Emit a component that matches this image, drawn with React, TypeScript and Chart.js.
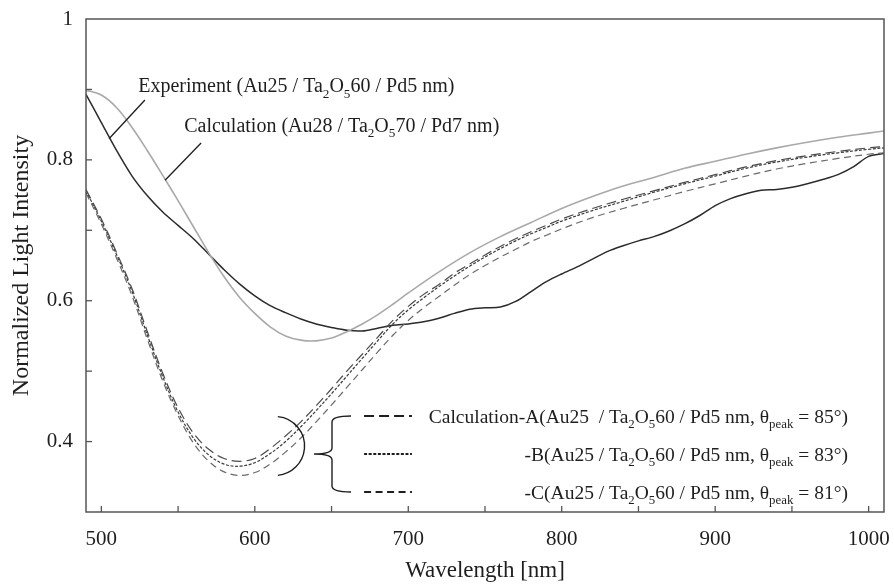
import { useEffect, useRef } from "react";
import { Chart, registerables } from "chart.js";

Chart.register(...registerables);

// ---- data -------------------------------------------------------------
const wavelengthExp = [
  490, 500, 510, 520, 530, 540, 550, 560, 570, 580, 590, 600, 610, 620, 630, 640, 650, 660, 670, 680,
  690, 700, 710, 720, 730, 740, 750, 760, 770, 780, 790, 800, 810, 820, 830, 840, 850, 860, 870, 880,
  890, 900, 910, 920, 930, 940, 950, 960, 970, 980, 990, 1000, 1010,
];
const experiment = [
  0.893, 0.853, 0.813, 0.777, 0.749, 0.726, 0.707, 0.688, 0.666, 0.644, 0.624, 0.607, 0.593, 0.583,
  0.574, 0.567, 0.562, 0.558, 0.557, 0.561, 0.565, 0.567, 0.57, 0.575, 0.582, 0.588, 0.59, 0.591,
  0.599, 0.613, 0.627, 0.638, 0.648, 0.659, 0.67, 0.678, 0.685, 0.691, 0.699, 0.709, 0.721, 0.735,
  0.745, 0.752, 0.757, 0.758, 0.761, 0.766, 0.772, 0.779, 0.79, 0.805, 0.809,
];

const wavelengthCalc = [
  490, 500, 510, 520, 530, 540, 550, 560, 570, 580, 590, 600, 610, 620, 630, 640, 650, 660, 670, 680,
  690, 700, 720, 740, 760, 780, 800, 820, 840, 860, 880, 900, 920, 940, 960, 980, 1000, 1010,
];
const calcAu28 = [
  0.899, 0.892, 0.874, 0.846, 0.813, 0.778, 0.742, 0.705, 0.668, 0.634, 0.605, 0.582, 0.563, 0.55,
  0.544, 0.543, 0.547, 0.556, 0.567, 0.58, 0.595, 0.611, 0.641, 0.668, 0.691, 0.711, 0.731, 0.748,
  0.763, 0.775, 0.788, 0.798, 0.808, 0.817, 0.825, 0.832, 0.838, 0.841,
];

const wavelengthABC = [
  490, 500, 510, 520, 530, 540, 550, 560, 570, 580, 590, 600, 610, 620, 630, 640, 650, 660, 670, 680,
  690, 700, 710, 720, 730, 740, 750, 760, 770, 780, 790, 800, 820, 840, 860, 880, 900, 920, 940, 960,
  980, 1000, 1010,
];
const calcA = [
  0.758, 0.716, 0.668, 0.617, 0.556, 0.497, 0.448, 0.412, 0.389, 0.376, 0.372, 0.376, 0.39, 0.408,
  0.428, 0.451, 0.475, 0.5, 0.524, 0.548, 0.572, 0.592, 0.609, 0.623, 0.639, 0.652, 0.665, 0.677,
  0.688, 0.698, 0.707, 0.716, 0.731, 0.744, 0.756, 0.768, 0.779, 0.79, 0.799, 0.806, 0.812, 0.817,
  0.819,
];
const calcB = [
  0.756, 0.713, 0.665, 0.613, 0.551, 0.492, 0.442, 0.405, 0.381, 0.368, 0.365, 0.37, 0.383, 0.4,
  0.421, 0.444, 0.468, 0.493, 0.518, 0.543, 0.567, 0.587, 0.604, 0.62, 0.635, 0.649, 0.662, 0.674,
  0.685, 0.695, 0.704, 0.713, 0.728, 0.741, 0.754, 0.766, 0.777, 0.788, 0.797, 0.804, 0.81, 0.815,
  0.817,
];
const calcC = [
  0.753, 0.709, 0.66, 0.607, 0.545, 0.486, 0.437, 0.398, 0.372, 0.357, 0.352, 0.356, 0.368, 0.385,
  0.405, 0.428, 0.452, 0.477, 0.502, 0.527, 0.551, 0.572, 0.59, 0.606, 0.622, 0.637, 0.65, 0.662,
  0.673, 0.684, 0.693, 0.702, 0.718, 0.731, 0.743, 0.755, 0.766, 0.777, 0.787, 0.795, 0.802, 0.808,
  0.81,
];

const xLabelTicks = [500, 600, 700, 800, 900, 1000];
const yLabelTicks = [0.4, 0.6, 0.8, 1];
const xTickMarks = [500, 550, 600, 650, 700, 750, 800, 850, 900, 950, 1000];
const yTickMarks = [0.4, 0.5, 0.6, 0.7, 0.8, 0.9];

const peakAngles = ["85", "83", "81"];
const legendPrefixes = ["Calculation-A(Au25  / Ta", "-B(Au25 / Ta", "-C(Au25 / Ta"];

// ---- styles -----------------------------------------------------------
const SERIF = '"Liberation Serif", "Times New Roman", Times, serif';
const INK = "#1e1e1e";
const FRAME = "#555555";
const DASH_A = [10, 5];
const DASH_B = [3, 1.6];
const DASH_C = [7, 4.5];

type Run = { t: string; sub?: boolean };

function setFont(ctx: CanvasRenderingContext2D, size: number) {
  ctx.font = `${size}px ${SERIF}`;
}

function runsWidth(ctx: CanvasRenderingContext2D, runs: Run[], size: number) {
  let w = 0;
  for (const r of runs) {
    setFont(ctx, r.sub ? size * 0.66 : size);
    w += ctx.measureText(r.t).width;
  }
  return w;
}

function drawRuns(
  ctx: CanvasRenderingContext2D,
  runs: Run[],
  x: number,
  baseline: number,
  size: number,
  align: "left" | "right"
) {
  let cx = align === "right" ? x - runsWidth(ctx, runs, size) : x;
  ctx.textAlign = "left";
  ctx.textBaseline = "alphabetic";
  for (const r of runs) {
    const s = r.sub ? size * 0.66 : size;
    setFont(ctx, s);
    ctx.fillText(r.t, cx, baseline + (r.sub ? size * 0.27 : 0));
    cx += ctx.measureText(r.t).width;
  }
}

function stackRuns(prefix: string, suffix: Run[]): Run[] {
  return [{ t: prefix }, { t: "2", sub: true }, { t: "O" }, { t: "5", sub: true }, ...suffix];
}

const overlay = {
  id: "overlay",
  afterDatasetsDraw(chart: any) {
    const { ctx, chartArea: a, scales } = chart;
    const X = (v: number) => scales.x.getPixelForValue(v);
    const Y = (v: number) => scales.y.getPixelForValue(v);
    const seg = (x1: number, y1: number, x2: number, y2: number) => {
      ctx.beginPath();
      ctx.moveTo(x1, y1);
      ctx.lineTo(x2, y2);
      ctx.stroke();
    };

    ctx.save();

    // frame and inward tick marks
    ctx.strokeStyle = FRAME;
    ctx.lineWidth = 1.5;
    ctx.setLineDash([]);
    ctx.strokeRect(a.left, a.top, a.right - a.left, a.bottom - a.top);
    ctx.lineWidth = 1.3;
    for (const w of xTickMarks) seg(X(w), a.bottom, X(w), a.bottom - 6);
    for (const v of yTickMarks) seg(a.left, Y(v), a.left + 6, Y(v));

    // curve labels with pointer lines
    ctx.fillStyle = INK;
    ctx.strokeStyle = INK;
    ctx.lineWidth = 1.3;
    drawRuns(
      ctx,
      stackRuns("Experiment (Au25 / Ta", [{ t: "60 / Pd5 nm)" }]),
      X(524),
      Y(0.896),
      20,
      "left"
    );
    seg(X(528.4), Y(0.885), X(505), Y(0.83));
    drawRuns(
      ctx,
      stackRuns("Calculation (Au28 / Ta", [{ t: "70 / Pd7 nm)" }]),
      X(554),
      Y(0.84),
      20,
      "left"
    );
    seg(X(565), Y(0.824), X(541.5), Y(0.771));

    // bracket grouping the three calculations
    ctx.lineWidth = 1.4;
    ctx.beginPath();
    ctx.arc(X(613.2), Y(0.3937), 29.5, -Math.PI * 0.47, Math.PI * 0.47);
    ctx.stroke();

    const rows = [0.4363, 0.3824, 0.3284];
    const bx = X(650.3);
    const tipX = X(638.6);
    const armX = X(662.7);
    const top = Y(rows[0]);
    const mid = Y(rows[1]);
    const bot = Y(rows[2]);
    const r = 6;
    ctx.beginPath();
    ctx.moveTo(armX, top);
    ctx.quadraticCurveTo(bx, top, bx, top + r);
    ctx.lineTo(bx, mid - r);
    ctx.quadraticCurveTo(bx, mid, tipX, mid);
    ctx.moveTo(tipX, mid);
    ctx.quadraticCurveTo(bx, mid, bx, mid + r);
    ctx.lineTo(bx, bot - r);
    ctx.quadraticCurveTo(bx, bot, armX, bot);
    ctx.stroke();

    // legend samples and descriptions
    const dashes = [DASH_A, DASH_B, DASH_C];
    rows.forEach((rv, i) => {
      const yy = Y(rv);
      ctx.setLineDash(dashes[i]);
      ctx.lineWidth = 2;
      ctx.strokeStyle = INK;
      seg(X(671.2), yy, X(702.4), yy);
      ctx.setLineDash([]);
      drawRuns(
        ctx,
        stackRuns(legendPrefixes[i], [
          { t: "60 / Pd5 nm, θ" },
          { t: "peak", sub: true },
          { t: ` = ${peakAngles[i]}°)` },
        ]),
        X(986.5),
        yy + 7,
        19.5,
        "right"
      );
    });

    ctx.restore();
  },
};

function series(xs: number[], ys: number[]) {
  return xs.map((x, i) => ({ x, y: ys[i] }));
}

function noEdgePadding(s: any) {
  s.paddingLeft = 0;
  s.paddingRight = 0;
  s.paddingTop = 0;
  s.paddingBottom = 0;
}

export default function App() {
  const ref = useRef<HTMLCanvasElement | null>(null);

  useEffect(() => {
    if (!ref.current) return;
    const tickFont = { family: SERIF, size: 21 };
    const chart = new Chart(ref.current, {
      type: "line",
      data: {
        datasets: [
          {
            label: "Calculation (Au28 / Ta2O570 / Pd7 nm)",
            data: series(wavelengthCalc, calcAu28),
            borderColor: "#a9a9a9",
            borderWidth: 1.6,
            tension: 0.35,
            pointRadius: 0,
          },
          {
            label: "Calculation-A",
            data: series(wavelengthABC, calcA),
            borderColor: "#4a4a4a",
            borderWidth: 1.2,
            borderDash: DASH_A,
            tension: 0.35,
            pointRadius: 0,
          },
          {
            label: "-B",
            data: series(wavelengthABC, calcB),
            borderColor: "#3a3a3a",
            borderWidth: 1.2,
            borderDash: DASH_B,
            tension: 0.35,
            pointRadius: 0,
          },
          {
            label: "-C",
            data: series(wavelengthABC, calcC),
            borderColor: "#6a6a6a",
            borderWidth: 1.2,
            borderDash: DASH_C,
            tension: 0.35,
            pointRadius: 0,
          },
          {
            label: "Experiment (Au25 / Ta2O560 / Pd5 nm)",
            data: series(wavelengthExp, experiment),
            borderColor: "#2b2b2b",
            borderWidth: 1.5,
            tension: 0.3,
            pointRadius: 0,
          },
        ],
      },
      options: {
        responsive: false,
        animation: false,
        events: [],
        layout: { padding: { left: 0, right: 10, top: 19, bottom: 0 } },
        plugins: { legend: { display: false }, tooltip: { enabled: false } },
        scales: {
          x: {
            type: "linear",
            min: 490,
            max: 1010,
            afterBuildTicks: (s: any) => {
              s.ticks = xLabelTicks.map((value) => ({ value }));
            },
            afterFit: (s: any) => {
              s.height = 76;
              noEdgePadding(s);
            },
            grid: { display: false, drawTicks: false },
            border: { display: false },
            ticks: {
              autoSkip: false,
              maxRotation: 0,
              padding: 15,
              color: INK,
              font: tickFont,
              callback: (v: any) => String(v),
            },
            title: {
              display: true,
              text: "Wavelength [nm]",
              color: INK,
              font: { family: SERIF, size: 23 },
              padding: { top: 0, bottom: 3 },
            },
          },
          y: {
            type: "linear",
            min: 0.3,
            max: 1,
            afterBuildTicks: (s: any) => {
              s.ticks = yLabelTicks.map((value) => ({ value }));
            },
            afterFit: (s: any) => {
              s.width = 86;
              noEdgePadding(s);
            },
            grid: { display: false, drawTicks: false },
            border: { display: false },
            ticks: {
              autoSkip: false,
              padding: 13,
              color: INK,
              font: tickFont,
              callback: (v: any) => (Number(v) === 1 ? "1" : Number(v).toFixed(1)),
            },
            title: {
              display: true,
              text: "Normalized Light Intensity",
              color: INK,
              font: { family: SERIF, size: 24 },
              padding: { top: 7, bottom: 0 },
            },
          },
        },
      },
      plugins: [overlay],
    });
    return () => chart.destroy();
  }, []);

  return (
    <div style={{ position: "absolute", left: 0, top: 0, width: 894, height: 588, background: "#fff" }}>
      <canvas ref={ref} width={894} height={588} style={{ display: "block" }} />
    </div>
  );
}
